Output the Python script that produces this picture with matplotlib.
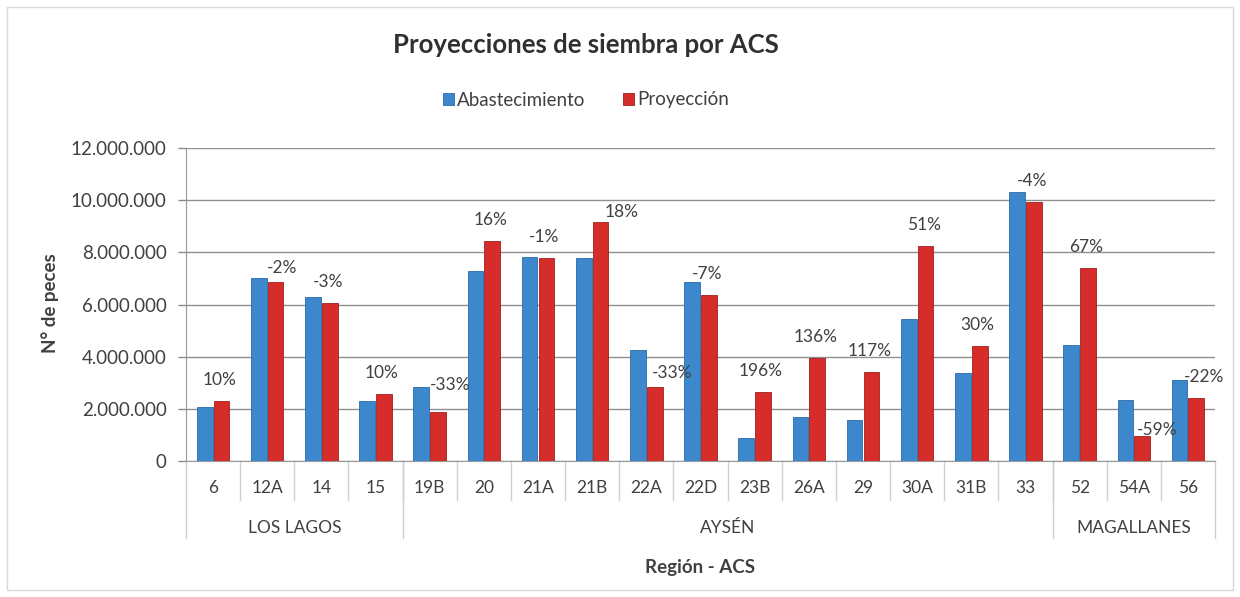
import matplotlib
matplotlib.use("Agg")
import matplotlib.pyplot as plt
from matplotlib.patches import Rectangle
from matplotlib.ticker import FuncFormatter

plt.rcParams['font.family'] = ['Lato', 'DejaVu Sans']

# data
acs = ['6', '12A', '14', '15', '19B', '20', '21A', '21B', '22A', '22D',
       '23B', '26A', '29', '30A', '31B', '33', '52', '54A', '56']
abastecimiento = [2080000, 7010000, 6300000, 2290000, 2830000, 7290000, 7830000, 7770000,
                  4270000, 6880000, 890000, 1670000, 1580000, 5450000, 3380000, 10330000,
                  4430000, 2350000, 3090000]
proyeccion = [2290000, 6880000, 6070000, 2550000, 1880000, 8450000, 7780000, 9160000,
              2850000, 6380000, 2650000, 3940000, 3430000, 8260000, 4400000, 9920000,
              7410000, 960000, 2420000]
variacion = ['10%', '-2%', '-3%', '10%', '-33%', '16%', '-1%', '18%', '-33%', '-7%',
             '196%', '136%', '117%', '51%', '30%', '-4%', '67%', '-59%', '-22%']
regiones = ['LOS LAGOS', 'AYSÉN', 'MAGALLANES']
n_por_region = [4, 12, 3]

c_blue = '#3d88cc'
c_red = '#d62d2a'
c_text = '#404040'

fig = plt.figure(figsize=(12.4, 5.97), dpi=100)
ax = fig.add_axes([186 / 1240, 1 - 461 / 597, (1215 - 186) / 1240, (461 - 148) / 597])

x = list(range(len(acs)))
w = 0.29
ax.bar([i - 0.155 for i in x], abastecimiento, w, color=c_blue, edgecolor='#2a6aa8',
       linewidth=0.6, label='Abastecimiento', zorder=3)
ax.bar([i + 0.155 for i in x], proyeccion, w, color=c_red, edgecolor='#9e1f1c',
       linewidth=0.6, label='Proyección', zorder=3)

# percentage labels, mostly above the red bar
offsets = {1: (6, 14), 4: (12, 27), 7: (21, 10), 8: (17, 14), 17: (15, 6), 18: (8, 21)}
for i in x:
    dx, dy = offsets.get(i, (-2, 21))
    ax.annotate(variacion[i], (i + 0.155, proyeccion[i]), xytext=(dx, dy),
                textcoords='offset pixels', ha='center', va='center',
                fontsize=12.5, color=c_text, zorder=4)

ax.set_xlim(-0.5, len(acs) - 0.5)
ax.set_ylim(0, 12000000)
ax.set_yticks(range(0, 12000001, 2000000))
ax.yaxis.set_major_formatter(FuncFormatter(lambda v, p: f'{int(v):,}'.replace(',', '.')))
ax.grid(axis='y', color='#8f8f8f', linewidth=1, zorder=0)
ax.tick_params(axis='y', labelsize=13.5, colors='#8a8a8a', labelcolor=c_text,
               length=6, width=1, pad=8)
ax.tick_params(axis='x', length=0, labelbottom=False)
for s in ['top', 'right']:
    ax.spines[s].set_visible(False)
ax.spines['left'].set_color('#9a9a9a')
ax.spines['bottom'].set_color('#9a9a9a')

# two-level category axis
tr = ax.get_xaxis_transform()
h = 313.0
for i in x:
    ax.text(i, -27 / h, acs[i], transform=tr, ha='center', va='center',
            fontsize=12.5, color=c_text)
for b in range(1, len(acs)):
    ax.plot([b - 0.5, b - 0.5], [0, -39 / h], transform=tr, color='#cfcfcf',
            linewidth=1, clip_on=False)
start = 0
bounds = [-0.5]
for name, n in zip(regiones, n_por_region):
    ax.text(start + (n - 1) / 2, -67 / h, name, transform=tr, ha='center', va='center',
            fontsize=12.5, color=c_text)
    start += n
    bounds.append(start - 0.5)
for b in bounds:
    ax.plot([b, b], [0, -77 / h], transform=tr, color='#cfcfcf', linewidth=1, clip_on=False)

fig.text(50 / 1240, 1 - 303 / 597, 'N° de peces', rotation=90, ha='center', va='center',
         fontsize=13.5, fontweight='bold', color=c_text)
fig.text(700 / 1240, 1 - 568 / 597, 'Región - ACS', ha='center', va='center',
         fontsize=13.5, fontweight='bold', color=c_text)
fig.text(586 / 1240, 1 - 45 / 597, 'Proyecciones de siembra por ACS', ha='center',
         va='center', fontsize=18.5, fontweight='bold', color='#303030')

fig.legend(loc='center', bbox_to_anchor=(586 / 1240, 1 - 100 / 597), ncol=2, frameon=False,
           fontsize=13.5, handlelength=0.6, handleheight=0.6, handletextpad=0.15,
           columnspacing=2.0, labelcolor=c_text)

fig.patches.append(Rectangle((7 / 1240, 7 / 597), 1226 / 1240, 583 / 597,
                             transform=fig.transFigure, fill=False,
                             edgecolor='#d9d9d9', linewidth=1))

fig.savefig('out.png', dpi=100)
